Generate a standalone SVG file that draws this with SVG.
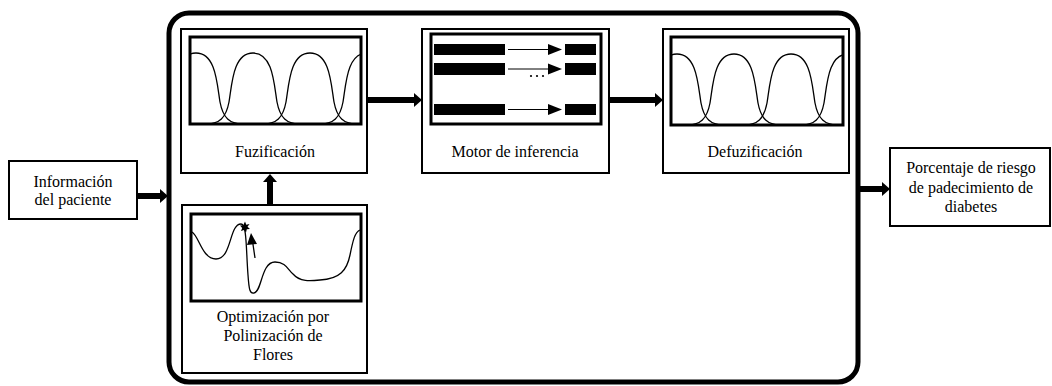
<svg xmlns="http://www.w3.org/2000/svg" width="1052" height="386" viewBox="0 0 1052 386" font-family="'Liberation Serif', 'Times New Roman', serif">
<style>
text{font-family:"Liberation Serif","Times New Roman",serif;font-size:16px;fill:#000;text-anchor:middle}
.box{fill:#fff;stroke:#000;stroke-width:2}
.inner{fill:none;stroke:#000;stroke-width:3}
.curve{fill:none;stroke:#000;stroke-width:1.3}
.thick{stroke:#000;stroke-width:6;fill:none}
.head{fill:#000}
</style>
<defs>
<path id="bell" d="M -46,0 C -34,0 -27,-6 -24,-22 C -21,-40 -20,-71 0,-71 C 20,-71 21,-40 24,-22 C 27,-6 34,0 46,0" class="curve"/>
<clipPath id="cf"><rect x="190" y="37" width="171" height="87"/></clipPath>
<clipPath id="cd"><rect x="671" y="37" width="172" height="88"/></clipPath>
</defs>
<rect id="container" x="169" y="13" width="689" height="369" rx="20" fill="none" stroke="#000" stroke-width="5"/>
<g id="info">
<rect class="box" x="9" y="161" width="128" height="58"/>
<text x="73" y="187" font-family="'Liberation Serif', serif">Información</text>
<text x="73" y="205" font-family="'Liberation Serif', serif">del paciente</text>
</g>
<g id="fuzificacion">
<rect class="box" x="181" y="29" width="186" height="144"/>
<g clip-path="url(#cf)">
<use href="#bell" x="196" y="124"/>
<use href="#bell" x="253" y="124"/>
<use href="#bell" x="310" y="124"/>
<use href="#bell" x="367" y="124"/>
</g>
<rect class="inner" x="190" y="37" width="171" height="87"/>
<text x="275" y="157" font-family="'Liberation Serif', serif">Fuzificación</text>
</g>
<g id="motor">
<rect class="box" x="422" y="29" width="187" height="144"/>
<rect class="inner" x="431" y="34" width="170" height="90"/>
<rect x="434" y="44" width="71" height="11"/>
<rect x="565" y="44" width="31" height="11"/>
<rect x="434" y="63" width="71" height="12"/>
<rect x="565" y="63" width="31" height="12"/>
<rect x="434" y="104" width="71" height="11"/>
<rect x="565" y="104" width="31" height="11"/>
<g stroke="#000" stroke-width="1">
<line x1="508" y1="49.5" x2="550" y2="49.5"/>
<line x1="508" y1="69" x2="550" y2="69"/>
<line x1="508" y1="109.5" x2="550" y2="109.5"/>
</g>
<polygon class="head" points="548,44 562,49.5 548,55"/>
<polygon class="head" points="548,63.5 562,69 548,74.5"/>
<polygon class="head" points="548,104 562,109.5 548,115"/>
<circle cx="531" cy="76" r="1.1"/>
<circle cx="537" cy="76" r="1.1"/>
<circle cx="543" cy="76" r="1.1"/>
<text x="515" y="157" font-family="'Liberation Serif', serif">Motor de inferencia</text>
</g>
<g id="defuzificacion">
<rect class="box" x="663" y="29" width="186" height="144"/>
<g clip-path="url(#cd)">
<use href="#bell" x="677" y="125"/>
<use href="#bell" x="734" y="125"/>
<use href="#bell" x="791" y="125"/>
<use href="#bell" x="848" y="125"/>
</g>
<rect class="inner" x="671" y="37" width="172" height="88"/>
<text x="755" y="157" font-family="'Liberation Serif', serif">Defuzificación</text>
</g>
<g id="optimizacion">
<rect class="box" x="182" y="205" width="185" height="168"/>
<rect class="inner" x="191" y="214" width="170" height="87"/>
<path class="curve" d="M 192,232 C 199,236 202,259 216,259 C 232,259 229,224 241,224 C 247,224 246,250 248,275 C 249,290 250,294 254,293 C 262,292 261,262 275,262 C 286,262 288,270 293,274 C 300,282 310,281 320,280 C 340,279 347,270 350,255 C 353,240 355,232 360,230"/>
<line x1="255" y1="258" x2="252.5" y2="241" stroke="#000" stroke-width="1.3"/>
<polygon class="head" points="251,233 257,244 247,245"/>
<polygon class="head" points="245,221.5 246.3,224.7 249.5,224 247.5,226.8 250,229 246.8,229.3 246,232.5 244,230 241,231 242.2,228 240,225.5 243.2,225.3"/>
<text x="273" y="322" font-family="'Liberation Serif', serif">Optimización por</text>
<text x="273" y="341" font-family="'Liberation Serif', serif">Polinización de</text>
<text x="273" y="360" font-family="'Liberation Serif', serif">Flores</text>
</g>
<g id="output">
<rect class="box" x="890" y="148" width="160" height="78"/>
<text x="971" y="173" font-family="'Liberation Serif', serif">Porcentaje de riesgo</text>
<text x="971" y="193" font-family="'Liberation Serif', serif">de padecimiento de</text>
<text x="971" y="212" font-family="'Liberation Serif', serif">diabetes</text>
</g>
<g id="connectors">
<line class="thick" x1="137" y1="196" x2="161" y2="196"/>
<polygon class="head" points="160,189 168,196 160,203"/>
<line class="thick" x1="367" y1="100" x2="415" y2="100"/>
<polygon class="head" points="414,93 422,100 414,107"/>
<line class="thick" x1="609" y1="100" x2="656" y2="100"/>
<polygon class="head" points="655,93 663,100 655,107"/>
<line class="thick" x1="860" y1="189" x2="883" y2="189"/>
<polygon class="head" points="882,182 890,189 882,196"/>
<line class="thick" x1="270" y1="205" x2="270" y2="181"/>
<polygon class="head" points="263,182 270,174 277,182"/>
</g>
</svg>
